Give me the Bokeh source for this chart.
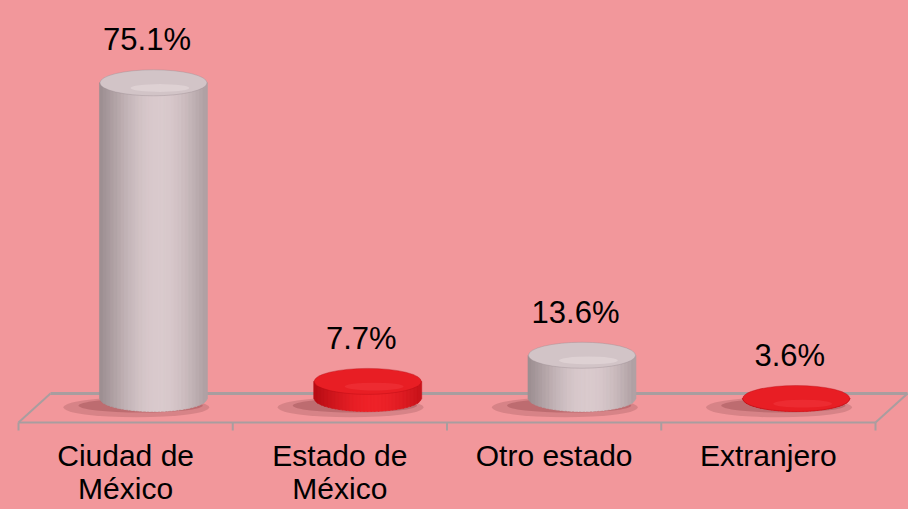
import numpy as np
from bokeh.plotting import figure
from bokeh.models import Range1d
from bokeh.embed import file_html
from bokeh.resources import INLINE
from bokeh.core.properties import value

# ---- data ----
categories = ["Ciudad de\nMéxico", "Estado de\nMéxico", "Otro estado", "Extranjero"]
percentages = [75.1, 7.7, 13.6, 3.6]
value_labels = ["75.1%", "7.7%", "13.6%", "3.6%"]
bar_kinds = ["grey", "red", "grey", "red"]

# ---- styling / layout ----
BG = "#F2979B"
W, H = 908, 509
PX_X = 214.25      # pixels per category
PX_Y = 4.43        # pixels per percentage point
X0_PX = 18
ZERO_PX = 415
FLOOR_V = 3.84     # value level where the 3D floor sits (perspective offset)
FONT = value("Liberation Sans")

p = figure(width=W, height=H,
           x_range=Range1d(-X0_PX / PX_X, (W - X0_PX) / PX_X),
           y_range=Range1d(-(H - ZERO_PX) / PX_Y, ZERO_PX / PX_Y),
           x_axis_type=None, y_axis_type=None,
           output_backend="svg", toolbar_location=None, min_border=0,
           background_fill_color=BG, border_fill_color=BG, outline_line_color=None)
p.grid.visible = False

n = len(categories)
# floor (3D platform)
yf = -7 / PX_Y
dx, dy = 32 / PX_X, 29 / PX_Y
yb = yf + dy
floor_col = "#A99D9F"
p.line([dx, n + dx], [yb, yb], line_color=floor_col, line_width=3)
p.line([0, n], [yf, yf], line_color=floor_col, line_width=2)
p.segment(x0=[0, n], y0=[yf, yf], x1=[dx, n + dx], y1=[yb, yb], line_color=floor_col, line_width=2)
p.segment(x0=list(range(n + 1)), y0=[yf] * (n + 1), x1=list(range(n + 1)),
          y1=[yf - 8 / PX_Y] * (n + 1), line_color=floor_col, line_width=2)

# cylinders
RX = 0.25
RY = 13 / PX_Y
OFF = 0.13
palettes = {
    "grey": dict(dark=(150, 136, 139), light=(218, 202, 205), top=(210, 196, 199), hi=(234, 222, 224)),
    "red": dict(dark=(178, 10, 18), light=(238, 34, 40), top=(232, 30, 36), hi=(242, 56, 62)),
}


def hexc(c):
    return "#%02x%02x%02x" % tuple(int(round(v)) for v in c)


centers = [i + 0.5 + OFF for i in range(n)]

# shadows
p.ellipse(x=[c - 0.08 for c in centers], y=[FLOOR_V - 2.0] * n, width=0.68, height=20 / PX_Y,
          fill_color="#B0666A", fill_alpha=0.4, line_color=None)
p.ellipse(x=[c - 0.06 for c in centers], y=[FLOOR_V - 1.6] * n, width=0.58, height=14 / PX_Y,
          fill_color="#9E5054", fill_alpha=0.45, line_color=None)

NS = 30
for c, v, kind in zip(centers, percentages, bar_kinds):
    pal = palettes[kind]
    top = max(v, FLOOR_V)
    edges = np.linspace(-RX, RX, NS + 1)
    xs, ys, cols = [], [], []
    for a, b in zip(edges[:-1], edges[1:]):
        u = (a + b) / 2 / RX
        w = max(0.0, np.cos((u - 0.12) * np.pi / 2.4)) ** 1.2
        col = [pal["dark"][k] + (pal["light"][k] - pal["dark"][k]) * w for k in range(3)]
        xa, xb = a - 0.002, b + 0.002
        ua = np.linspace(xa, xb, 4)
        bot = [FLOOR_V - RY * np.sqrt(max(0.0, 1 - (q / RX) ** 2)) for q in ua]
        xs.append([c + q for q in ua] + [c + xb, c + xa])
        ys.append(bot + [top, top])
        cols.append(hexc(col))
    p.patches(xs, ys, fill_color=cols, line_color=cols, line_width=0.6)
    # top cap
    p.ellipse(x=[c], y=[top], width=2 * RX, height=2 * RY, fill_color=hexc(pal["top"]),
              line_color=hexc(pal["dark"]), line_width=1, line_alpha=0.35)
    p.ellipse(x=[c + 0.03], y=[top - RY * 0.4], width=1.1 * RX, height=0.6 * RY,
              fill_color=hexc(pal["hi"]), fill_alpha=0.5, line_color=None)

# value labels
p.text(x=[i + 0.6 for i in range(n)], y=[max(v, FLOOR_V) for v in percentages], text=value_labels,
       text_font=FONT, text_font_size="31px", text_color="black",
       text_align="center", text_baseline="alphabetic", y_offset=-43)

# category labels
p.text(x=[i + 0.5 for i in range(n)], y=[-23 / PX_Y] * n, text=categories,
       text_font=FONT, text_font_size="30px", text_color="black",
       text_align="center", text_baseline="top", text_line_height=1.0)

html = file_html(p, INLINE)
html = html.replace("<head>", "<head><style>html,body{background:%s;}</style>" % BG, 1)
open("out.html", "w").write(html)
